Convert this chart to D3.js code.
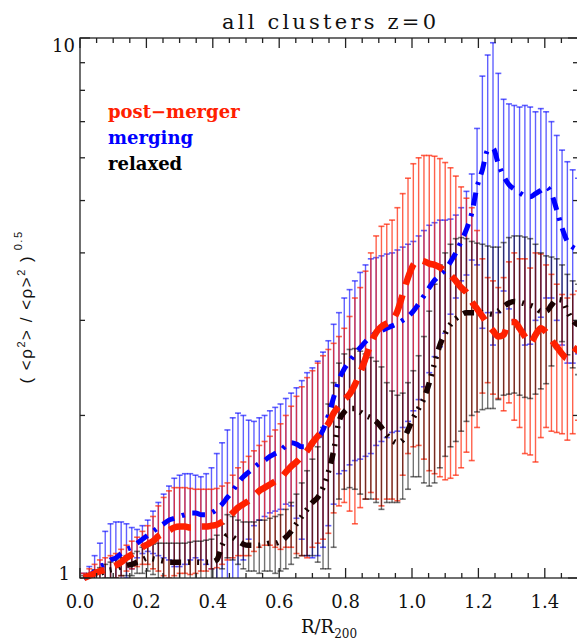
<!DOCTYPE html>
<html><head><meta charset="utf-8">
<script src="https://cdn.jsdelivr.net/npm/d3@7"></script>
<style>body{margin:0;background:#fff}</style>
</head><body><svg id="c" width="577" height="640"></svg>
<script>
// ---- data ----
const xs = [0.012,0.028,0.044,0.060,0.076,0.092,0.108,0.124,0.140,0.156,0.172,0.188,0.204,0.220,0.236,0.252,0.268,0.284,0.300,0.316,0.332,0.348,0.364,0.380,0.396,0.412,0.428,0.444,0.460,0.476,0.492,0.508,0.524,0.540,0.556,0.572,0.588,0.604,0.620,0.636,0.652,0.668,0.684,0.700,0.716,0.732,0.748,0.764,0.780,0.796,0.812,0.828,0.844,0.860,0.876,0.892,0.908,0.924,0.940,0.956,0.972,0.988,1.004,1.020,1.036,1.052,1.068,1.084,1.100,1.116,1.132,1.148,1.164,1.180,1.196,1.212,1.228,1.244,1.260,1.276,1.292,1.308,1.324,1.340,1.356,1.372,1.388,1.404,1.420,1.436,1.452,1.468,1.484,1.500];

const redMean = [1.00,1.01,1.02,1.03,1.035,1.045,1.055,1.07,1.09,1.105,
 1.12,1.14,1.155,1.17,1.195,1.21,1.225,1.24,1.245,1.245,
 1.24,1.24,1.245,1.245,1.25,1.255,1.27,1.29,1.32,1.35,
 1.37,1.39,1.42,1.45,1.47,1.49,1.51,1.53,1.57,1.61,
 1.64,1.68,1.72,1.78,1.83,1.88,1.93,2.02,2.08,2.14,
 2.19,2.28,2.4,2.55,2.72,2.85,2.92,2.96,3.0,3.12,
 3.35,3.6,3.8,3.88,3.86,3.82,3.8,3.76,3.7,3.64,
 3.55,3.45,3.38,3.25,3.15,3.05,2.95,2.87,2.8,2.82,
 2.98,2.98,2.9,2.8,2.72,2.82,2.9,2.85,2.76,2.68,
 2.6,2.55,2.6,2.68];
const redUpper = [1.02,1.04,1.06,1.08,1.09,1.10,1.11,1.13,1.15,1.17,
 1.19,1.22,1.25,1.30,1.36,1.41,1.45,1.47,1.47,1.47,
 1.465,1.46,1.46,1.46,1.46,1.465,1.48,1.50,1.55,1.60,
 1.64,1.68,1.72,1.76,1.79,1.83,1.88,1.93,2.0,2.08,
 2.17,2.26,2.35,2.42,2.5,2.58,2.65,2.72,2.8,2.9,
 3.05,3.3,3.45,3.7,4.0,4.3,4.48,4.52,4.6,4.85,
 5.15,5.5,5.85,6.0,6.06,6.06,6.04,5.98,5.88,5.75,
 5.55,5.3,5.05,4.85,4.4,3.9,3.6,3.55,3.45,3.6,
 3.85,4.0,3.9,3.9,3.75,4.0,3.98,3.8,3.65,3.5,
 3.35,3.3,3.35,3.4];

const blueMean = [1.0,1.01,1.03,1.05,1.06,1.08,1.09,1.11,1.13,1.14,
 1.16,1.18,1.20,1.22,1.24,1.26,1.28,1.29,1.30,1.31,
 1.32,1.32,1.31,1.31,1.32,1.34,1.37,1.41,1.45,1.5,
 1.54,1.57,1.6,1.63,1.65,1.68,1.7,1.72,1.76,1.78,
 1.77,1.75,1.75,1.77,1.81,1.88,2.0,2.16,2.33,2.44,
 2.52,2.6,2.67,2.74,2.8,2.84,2.87,2.9,2.93,2.96,
 3.0,3.05,3.12,3.22,3.33,3.45,3.56,3.64,3.72,3.85,
 4.0,4.2,4.42,4.74,5.3,5.7,6.2,6.25,5.85,5.55,
 5.35,5.25,5.17,5.1,5.08,5.15,5.22,5.3,5.15,4.8,
 4.45,4.2,4.1,4.05];
const blueUpper = [1.02,1.05,1.1,1.16,1.22,1.26,1.27,1.27,1.26,1.24,
 1.23,1.25,1.28,1.33,1.38,1.43,1.48,1.53,1.55,1.56,
 1.56,1.55,1.54,1.56,1.6,1.7,1.78,1.88,1.98,2.02,
 2.0,1.96,1.95,1.98,2.0,2.04,2.07,2.1,2.15,2.2,
 2.25,2.32,2.4,2.45,2.52,2.62,2.75,2.95,3.1,3.3,
 3.42,3.55,3.68,3.8,3.9,3.92,3.95,3.98,4.0,4.05,
 4.1,4.15,4.2,4.3,4.4,4.5,4.55,4.6,4.6,4.62,
 4.7,4.85,5.2,5.6,6.8,8.5,9.3,9.8,8.6,7.7,
 7.55,7.5,7.45,7.5,7.45,7.3,7.4,7.3,7.0,6.6,
 6.2,5.9,5.7,5.5];

const blackMean = [1.0,1.01,1.015,1.02,1.03,1.035,1.04,1.05,1.055,1.06,
 1.07,1.08,1.09,1.085,1.08,1.075,1.07,1.07,1.07,1.07,
 1.07,1.07,1.07,1.07,1.07,1.08,1.15,1.2,1.19,1.17,
 1.155,1.15,1.15,1.15,1.155,1.16,1.16,1.17,1.19,1.22,
 1.26,1.3,1.34,1.38,1.41,1.47,1.57,1.72,1.95,2.03,
 2.06,2.06,2.03,2.0,1.98,1.95,1.9,1.84,1.8,1.78,
 1.8,1.88,1.98,2.06,2.15,2.3,2.5,2.7,2.84,2.95,
 3.02,3.07,3.1,3.1,3.1,3.1,3.09,3.08,3.12,3.18,
 3.23,3.25,3.24,3.22,3.2,3.17,3.12,3.12,3.2,3.28,
 3.27,3.12,3.0,2.94];
const blackUpper = [1.01,1.02,1.035,1.045,1.06,1.07,1.08,1.09,1.10,1.11,
 1.12,1.14,1.15,1.155,1.16,1.16,1.16,1.16,1.16,1.16,
 1.165,1.17,1.17,1.175,1.18,1.2,1.26,1.31,1.3,1.28,
 1.27,1.27,1.27,1.28,1.28,1.29,1.3,1.31,1.34,1.38,
 1.43,1.5,1.58,1.66,1.75,1.9,2.1,2.3,2.5,2.6,
 2.65,2.66,2.63,2.6,2.56,2.52,2.46,2.3,2.22,2.18,
 2.2,2.3,2.42,2.58,2.8,3.12,3.5,3.8,4.0,4.15,
 4.25,4.27,4.25,4.2,4.17,4.15,4.12,4.1,4.1,4.18,
 4.27,4.3,4.3,4.28,4.25,4.15,4.0,3.95,3.93,3.9,
 3.8,3.65,3.55,3.5];

const xMajor = [0.0,0.2,0.4,0.6,0.8,1.0,1.2,1.4];
const xMajorLabels = ["0.0","0.2","0.4","0.6","0.8","1.0","1.2","1.4"];
const yMajor = [1,10];
const yMajorLabels = ["1","10"];
const yMinor = [2,3,4,5,6,7,8,9];
const legendNames = ["post\u2212merger","merging","relaxed"];
const title = "all clusters z=0";

// ---- drawing ----
const svg = d3.select('#c');
const L=80, R=578, T=38, B=578;
const x = d3.scaleLinear().domain([0,1.5]).range([L,R]);
const y = d3.scaleLog().domain([1,10]).range([B,T]);

const defs = svg.append('defs');
defs.append('clipPath').attr('id','clipBars').append('rect').attr('x',L).attr('y',T).attr('width',R-L).attr('height',B-T);
defs.append('clipPath').attr('id','clipLines').append('rect').attr('x',L).attr('y',T).attr('width',R-L).attr('height',B-T+4);

function build(mean, upper){
  return xs.map((xv,i)=>({x:xv, m:mean[i], hi:upper[i], lo:2*mean[i]-upper[i]}));
}
const series = [
  {name:'blue', color:'#0000ff', line:'#0000ff', data:build(blueMean,blueUpper), op:0.62, lw:5, dash:'13,8,3,8'},
  {name:'red', color:'#ff2000', line:'#ff2000', data:build(redMean,redUpper), op:0.7, lw:6.5, dash:'22,11'},
  {name:'black', color:'#000000', line:'#1a0202', data:build(blackMean,blackUpper), op:0.55, lw:5.5, dash:'11,7,2,7,2,7,2,7'}
];

const gBars = svg.append('g').attr('clip-path','url(#clipBars)');
series.forEach(s=>{
  const g = gBars.append('g').attr('stroke',s.color).attr('stroke-opacity',s.op).attr('stroke-width',1.4);
  g.selectAll('line.v').data(s.data).enter().append('line')
    .attr('x1',d=>x(d.x)).attr('x2',d=>x(d.x))
    .attr('y1',d=>y(d.lo)).attr('y2',d=>y(d.hi));
  g.selectAll('line.t').data(s.data).enter().append('line')
    .attr('x1',d=>x(d.x)-3).attr('x2',d=>x(d.x)+3)
    .attr('y1',d=>y(d.hi)).attr('y2',d=>y(d.hi)).attr('stroke-width',1.6);
  g.selectAll('line.b').data(s.data).enter().append('line')
    .attr('x1',d=>x(d.x)-3).attr('x2',d=>x(d.x)+3)
    .attr('y1',d=>y(d.lo)).attr('y2',d=>y(d.lo)).attr('stroke-width',1.6);
});

const gLines = svg.append('g').attr('clip-path','url(#clipLines)');
const line = d3.line().x(d=>x(d.x)).y(d=>y(d.m)).curve(d3.curveMonotoneX);
[series[2], series[0], series[1]].forEach(s=>{
  gLines.append('path').datum(s.data).attr('d',line)
    .attr('fill','none').attr('stroke',s.line).attr('stroke-width',s.lw)
    .attr('stroke-dasharray',s.dash);
});

// axes
const axCol = '#222';
const gAx = svg.append('g').attr('stroke',axCol).attr('stroke-width',1.3);
gAx.append('rect').attr('x',L).attr('y',T).attr('width',R-L).attr('height',B-T).attr('fill','none');
const xMinor = d3.range(0,1.5001,0.05).map(v=>+v.toFixed(2)).filter(v=>!xMajor.some(m=>Math.abs(m-v)<1e-6));
xMajor.forEach(v=>{
  gAx.append('line').attr('x1',x(v)).attr('x2',x(v)).attr('y1',B).attr('y2',B-10);
  gAx.append('line').attr('x1',x(v)).attr('x2',x(v)).attr('y1',T).attr('y2',T+10);
});
xMinor.forEach(v=>{
  gAx.append('line').attr('x1',x(v)).attr('x2',x(v)).attr('y1',B).attr('y2',B-5);
  gAx.append('line').attr('x1',x(v)).attr('x2',x(v)).attr('y1',T).attr('y2',T+5);
});
yMajor.forEach(v=>{
  gAx.append('line').attr('x1',L).attr('x2',L+10).attr('y1',y(v)).attr('y2',y(v));
  gAx.append('line').attr('x1',R).attr('x2',R-10).attr('y1',y(v)).attr('y2',y(v));
});
yMinor.forEach(v=>{
  gAx.append('line').attr('x1',L).attr('x2',L+5).attr('y1',y(v)).attr('y2',y(v));
  gAx.append('line').attr('x1',R).attr('x2',R-5).attr('y1',y(v)).attr('y2',y(v));
});

const serif = "'DejaVu Serif', 'Liberation Serif', serif";
const gT = svg.append('g').style('font-family',serif).attr('fill','#111');
xMajor.forEach((v,i)=>{
  gT.append('text').attr('x',x(v)).attr('y',608).attr('text-anchor','middle')
    .style('font-size','18px').text(xMajorLabels[i]);
});
gT.append('text').attr('x',75).attr('y',52).attr('text-anchor','end').style('font-size','18px').text(yMajorLabels[1]);
gT.append('text').attr('x',70).attr('y',580).attr('text-anchor','end').style('font-size','18px').text(yMajorLabels[0]);

// title
gT.append('text').attr('x',329).attr('y',29).attr('text-anchor','middle')
  .style('font-size','21px').attr('textLength',214).attr('lengthAdjust','spacing').text(title);

// x label
const xl = gT.append('text').attr('x',329).attr('y',633).attr('text-anchor','middle').style('font-size','18px');
xl.append('tspan').text('R/R');
xl.append('tspan').attr('dy',5).style('font-size','12px').text('200');

// y label
const yl = svg.append('text').attr('transform','translate(32,307) rotate(-90)')
  .attr('text-anchor','middle').attr('fill','#111')
  .style('font-family',"'Liberation Sans', Arial, sans-serif").style('font-size','17px')
  .style('letter-spacing','1.5px');
yl.append('tspan').text('( <\u03c1');
yl.append('tspan').attr('dy',-7).style('font-size','11px').text('2');
yl.append('tspan').attr('dy',7).text('> / <\u03c1>');
yl.append('tspan').attr('dy',-7).style('font-size','11px').text('2');
yl.append('tspan').attr('dy',7).text(' )');
yl.append('tspan').attr('dy',-10).style('font-size','11px').text(' 0.5');

// legend
const legCols = ['#ff2000','#0000ff','#000000'];
legendNames.forEach((n,i)=>{
  svg.append('text').attr('x',108).attr('y',118+i*26).attr('fill',legCols[i])
    .style('font-family',serif).style('font-weight','bold').style('font-size','18px').text(n);
});
</script></body></html>
